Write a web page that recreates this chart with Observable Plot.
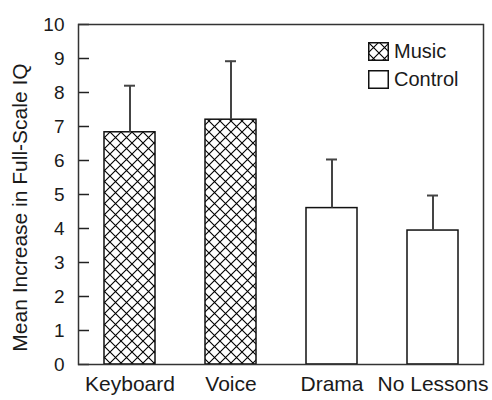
<!DOCTYPE html>
<html><head><meta charset="utf-8">
<script src="https://cdn.jsdelivr.net/npm/d3@7"></script>
<script src="https://cdn.jsdelivr.net/npm/@observablehq/plot@0.6"></script>
<style>
body{margin:0;background:#fff;font-family:"Liberation Sans",Arial,sans-serif;}
#wrap{position:relative;width:492px;height:400px;}
#legend{position:absolute;left:368px;top:37px;font-size:20px;color:#1a1a1a;line-height:1;}
.item{display:flex;align-items:center;height:28px;}
.item svg{margin-right:5px;display:block;}
</style></head><body>
<svg width="0" height="0" style="position:absolute"><defs>
<pattern id="xhatch" patternUnits="userSpaceOnUse" width="11" height="11">
<rect width="11" height="11" fill="white"/>
<path d="M0,0L11,11M11,0L0,11M-1,10L1,12M10,-1L12,1" stroke="#000" stroke-width="1.1"/>
</pattern></defs></svg>
<div id="wrap"></div>
<script>
const categories = ["Keyboard", "Voice", "Drama", "No Lessons"];
const groups = ["Music", "Music", "Control", "Control"];
const means = [6.83, 7.2, 4.6, 3.94];
const errors = [1.37, 1.72, 1.43, 1.03];
const yTicks = [0, 1, 2, 3, 4, 5, 6, 7, 8, 9, 10];
const yLabel = "Mean Increase in Full-Scale IQ";
const legendItems = ["Music", "Control"];

const data = categories.map((c, i) => ({category: c, group: groups[i], mean: means[i], upper: means[i] + errors[i]}));
const font = '"Liberation Sans", Arial, sans-serif';

const chart = Plot.plot({
  width: 492, height: 400,
  marginLeft: 78, marginRight: 9, marginTop: 24, marginBottom: 36,
  style: {fontFamily: font, fontSize: "20px", color: "#1a1a1a", background: "white"},
  x: {domain: categories, paddingInner: 0.5, paddingOuter: 0.25, label: null},
  y: {domain: [0, 10], label: null},
  marks: [
    Plot.barY(data.filter(d => d.group === "Music"), {x: "category", y: "mean", fill: "url(#xhatch)", stroke: "#111", strokeWidth: 1.5}),
    Plot.barY(data.filter(d => d.group === "Control"), {x: "category", y: "mean", fill: "white", stroke: "#111", strokeWidth: 1.5}),
    Plot.ruleX(data, {x: "category", y1: "mean", y2: "upper", stroke: "#444", strokeWidth: 2}),
    Plot.tickY(data, {x: "category", y: "upper", stroke: "#444", strokeWidth: 2, insetLeft: 20, insetRight: 20}),
    Plot.axisX({tickSize: 0, tickPadding: 12, fontSize: 21, label: null}),
    Plot.axisY({ticks: yTicks, tickSize: 0, tickPadding: 14, fontSize: 19, label: null}),
    Plot.axisY({ticks: yTicks, tickSize: -11, tickFormat: () => "", label: null, stroke: "#222", strokeWidth: 1.5}),
    Plot.text([yLabel], {frameAnchor: "left", rotate: -90, textAnchor: "middle", dx: -58, dy: 13, fontSize: 21, fill: "#1a1a1a"}),
    Plot.frame({stroke: "#333", strokeWidth: 1.5})
  ]
});
const wrap = document.getElementById("wrap");
wrap.appendChild(chart);

const legend = document.createElement("div");
legend.id = "legend";
legendItems.forEach(name => {
  const item = document.createElement("div");
  item.className = "item";
  const fill = name === "Music" ? "url(#xhatch)" : "white";
  item.innerHTML = `<svg width="21" height="19"><rect x="0.75" y="0.75" width="19.5" height="17.5" fill="${fill}" stroke="#111" stroke-width="1.5"/></svg><span>${name}</span>`;
  legend.appendChild(item);
});
wrap.appendChild(legend);
</script>
</body></html>
